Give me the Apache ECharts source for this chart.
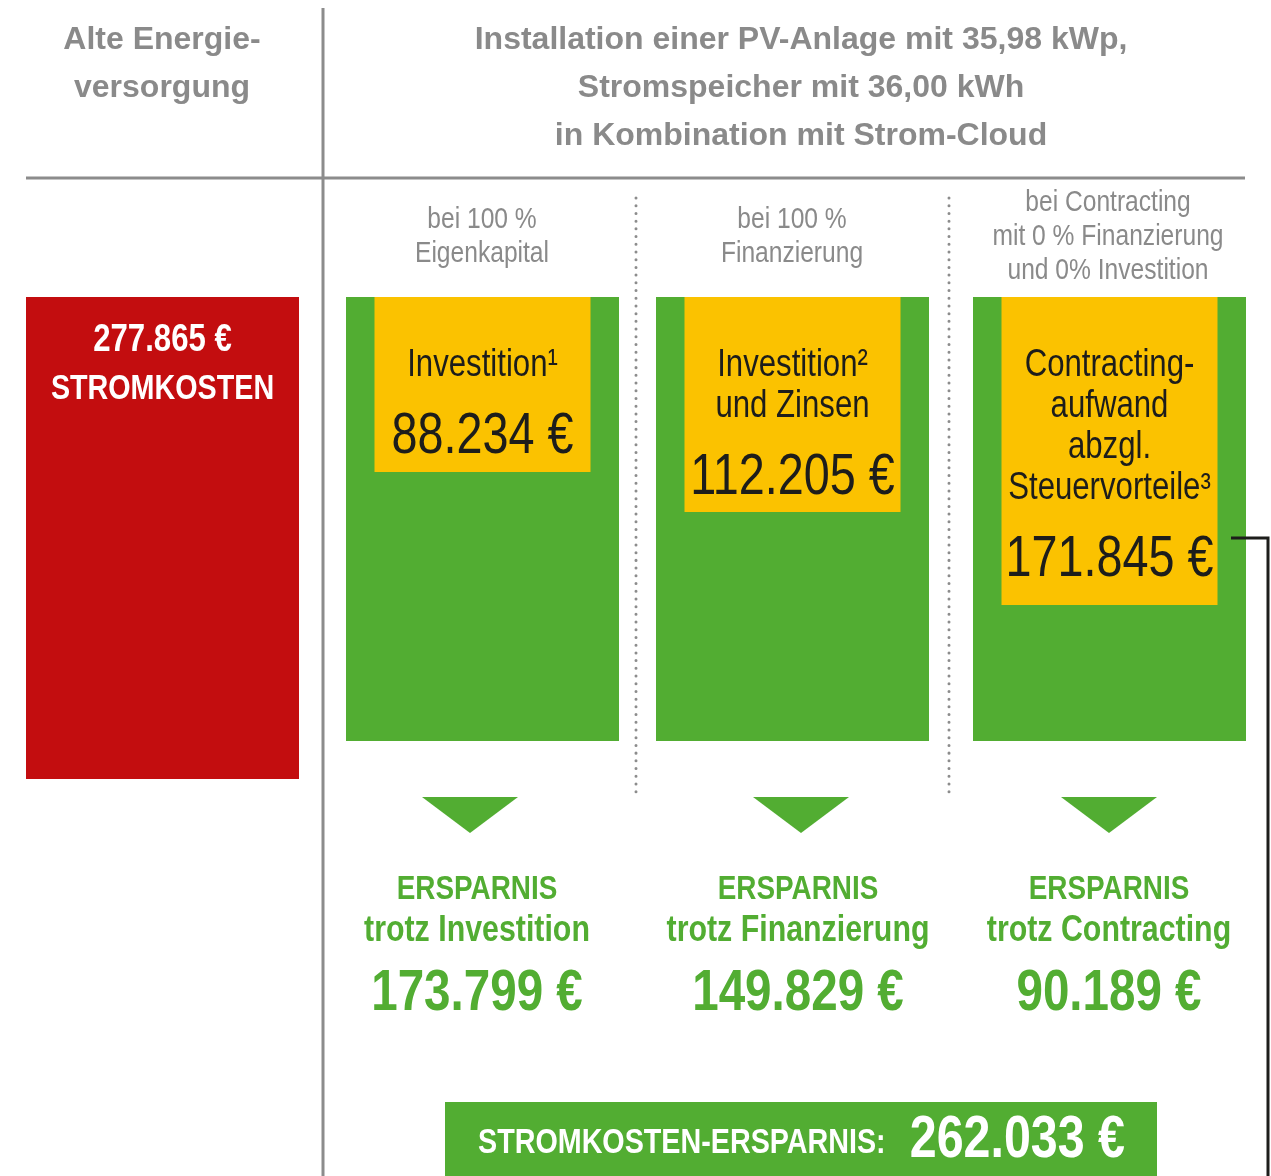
<!DOCTYPE html>
<html>
<head>
<meta charset="utf-8">
<title>Stromkosten-Ersparnis</title>
<script src="https://cdn.jsdelivr.net/npm/echarts@6/dist/echarts.min.js"></script>
<style>
  html, body {margin: 0; padding: 0; background: #ffffff;}
  #chart {width: 1271px; height: 1176px;}
</style>
</head>
<body>
<div id="chart"></div>
<script>
// Werte in Euro
const stromkosten = 277865;
const gesamtErsparnis = 262033;
const investition = [88234, 112205, 171845];
const ersparnis = [173799, 149829, 90189];

const spaltenTitel = [
  ['bei 100 %', 'Eigenkapital'],
  ['bei 100 %', 'Finanzierung'],
  ['bei Contracting', 'mit 0 % Finanzierung', 'und 0% Investition']
];
const kostenTitel = [
  ['Investition¹'],
  ['Investition²', 'und Zinsen'],
  ['Contracting-', 'aufwand', 'abzgl.', 'Steuervorteile³']
];
const ersparnisTitel = ['trotz Investition', 'trotz Finanzierung', 'trotz Contracting'];

// Skalen der einzelnen Spalten (Grafik ist nicht maßstabsgetreu)
const gelbAxisMax = [223860, 231720, 247720];

const RED = '#c30d0f';
const GREEN = '#52ad32';
const YELLOW = '#fbc200';
const GRAY = '#8a8a8a';
const DARK = '#1d1d1b';
const FONT = '"Liberation Sans", Arial, sans-serif';
const NARROW = 0.82; // schmale Schrift über scaleX

function euro(v) {
  return String(v).replace(/\B(?=(\d{3})+(?!\d))/g, '.') + ' €';
}

// Text-Element, horizontal gestaucht um den Mittelpunkt x
function txt(text, x, y, size, opt) {
  opt = opt || {};
  let style = {
    text: text,
    x: 0,
    y: 0,
    align: opt.align || 'center',
    verticalAlign: opt.verticalAlign || 'middle',
    fill: opt.color || GRAY,
    fontFamily: FONT,
    fontWeight: opt.bold ? 'bold' : 'normal',
    fontSize: size
  };
  if (opt.lineHeight) style.lineHeight = opt.lineHeight;
  return {
    type: 'text',
    x: x,
    y: y,
    z: 100,
    scaleX: opt.scaleX === undefined ? NARROW : opt.scaleX,
    silent: true,
    style: style
  };
}

const colLeft = [346, 656, 973];
const colCenter = [482, 792, 1108];
const arrowCenter = [470, 801, 1109];
const textCenter = [477, 798, 1109];

let grids = [{left: 26, top: 297, width: 273, height: 482, show: false}];
let xAxes = [{type: 'category', gridIndex: 0, data: ['Alte Energieversorgung'], show: false}];
let yAxes = [{type: 'value', gridIndex: 0, inverse: true, min: 0, max: stromkosten, show: false}];
let series = [{
  type: 'bar',
  xAxisIndex: 0,
  yAxisIndex: 0,
  data: [stromkosten],
  barWidth: '100%',
  itemStyle: {color: RED},
  silent: true
}];

for (let i = 0; i < 3; i++) {
  grids.push({left: colLeft[i], top: 297, width: 273, height: 444, show: true, backgroundColor: GREEN, borderWidth: 0});
  xAxes.push({type: 'category', gridIndex: i + 1, data: [spaltenTitel[i].join(' ')], show: false});
  yAxes.push({type: 'value', gridIndex: i + 1, inverse: true, min: 0, max: gelbAxisMax[i], show: false});
  series.push({
    type: 'bar',
    xAxisIndex: i + 1,
    yAxisIndex: i + 1,
    data: [investition[i]],
    barWidth: 216,
    itemStyle: {color: YELLOW},
    silent: true
  });
}

let option = {
  animation: false,
  backgroundColor: '#ffffff',
  grid: grids,
  xAxis: xAxes,
  yAxis: yAxes,
  series: series
};

let chart = echarts.init(document.getElementById('chart'), null, {width: 1271, height: 1176});
chart.setOption(option);

// Säulenanfang in Pixeln über die Achsen der jeweiligen Serie
function barTop(idx, fallbackX) {
  let p = chart.convertToPixel({seriesIndex: idx}, [0, 0]);
  if (!p || isNaN(p[0]) || isNaN(p[1])) {
    return [fallbackX, 297];
  }
  return p;
}

let graphic = [
  // Trennlinien
  {type: 'line', shape: {x1: 323, y1: 8, x2: 323, y2: 1176}, style: {stroke: '#8c8c8c', lineWidth: 3}, silent: true},
  {type: 'line', shape: {x1: 26, y1: 178, x2: 1245, y2: 178}, style: {stroke: '#8c8c8c', lineWidth: 3}, silent: true},
  {type: 'line', shape: {x1: 636, y1: 198, x2: 636, y2: 795}, style: {stroke: '#8c8c8c', lineWidth: 3, lineDash: [0.01, 7.7], lineCap: 'round'}, silent: true},
  {type: 'line', shape: {x1: 949, y1: 198, x2: 949, y2: 795}, style: {stroke: '#8c8c8c', lineWidth: 3, lineDash: [0.01, 7.7], lineCap: 'round'}, silent: true},
  // Klammer rechts
  {type: 'polyline', shape: {points: [[1231, 538], [1268, 538], [1268, 1180]]}, style: {stroke: DARK, lineWidth: 3, fill: null}, silent: true},
  // Überschriften
  txt('Alte Energie-\nversorgung', 162, 16, 32, {bold: true, scaleX: 1, verticalAlign: 'top', lineHeight: 48}),
  txt('Installation einer PV-Anlage mit 35,98 kWp,\nStromspeicher mit 36,00 kWh\nin Kombination mit Strom-Cloud',
    801, 16, 32, {bold: true, scaleX: 1, verticalAlign: 'top', lineHeight: 48}),
  // Ergebnisbox unten
  {type: 'rect', shape: {x: 445, y: 1102, width: 712, height: 80}, style: {fill: GREEN}, silent: true},
  txt('STROMKOSTEN-ERSPARNIS:', 478, 1143, 35, {bold: true, color: '#ffffff', align: 'left'}),
  txt(euro(gesamtErsparnis), 1125, 1141, 59, {bold: true, color: '#ffffff', align: 'right'})
];

// Beschriftung der roten Säule
let rot = barTop(0, 162);
graphic.push(txt(euro(stromkosten), rot[0], rot[1] + 44, 38, {bold: true, color: '#ffffff'}));
graphic.push(txt('STROMKOSTEN', rot[0], rot[1] + 92, 35, {bold: true, color: '#ffffff'}));

for (let i = 0; i < 3; i++) {
  let lines = spaltenTitel[i];
  let top = lines.length === 2 ? 220 - 17 : 203 - 17;
  graphic.push(txt(lines.join('\n'), colCenter[i], top, 30, {verticalAlign: 'top', lineHeight: 34}));

  // Beschriftung der gelben Säulen
  let p = barTop(i + 1, colCenter[i]);
  let n = kostenTitel[i].length;
  graphic.push(txt(kostenTitel[i].join('\n'), p[0], p[1] + 48, 38, {color: DARK, verticalAlign: 'top', lineHeight: 41}));
  graphic.push(txt(euro(investition[i]), p[0], p[1] + 70 + 41 * (n - 1) + 70, 57, {color: DARK}));

  let ax = arrowCenter[i];
  graphic.push({type: 'polygon', shape: {points: [[ax - 48, 797], [ax + 48, 797], [ax, 833]]}, style: {fill: GREEN}, silent: true});
  graphic.push(txt('ERSPARNIS', textCenter[i], 890, 34, {bold: true, color: GREEN}));
  graphic.push(txt(ersparnisTitel[i], textCenter[i], 931, 37, {bold: true, color: GREEN}));
  graphic.push(txt(euro(ersparnis[i]), textCenter[i], 994, 58, {bold: true, color: GREEN}));
}

chart.setOption({graphic: graphic});
</script>
</body>
</html>
